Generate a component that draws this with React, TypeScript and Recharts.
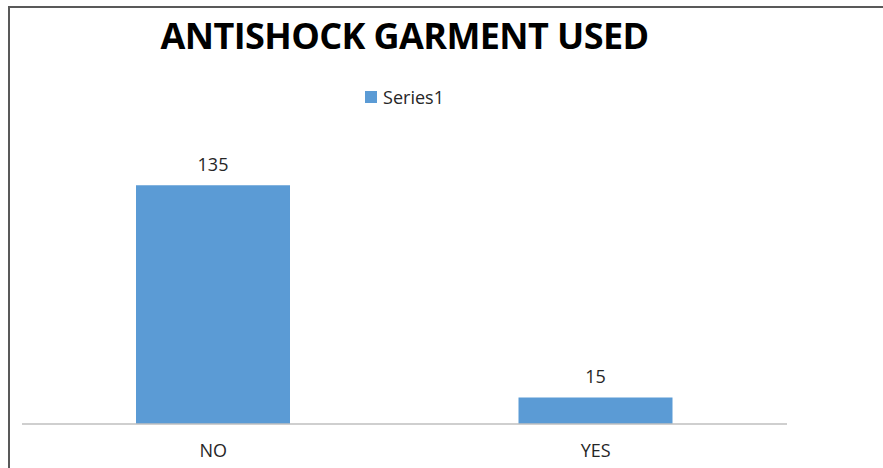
import React from 'react';
import { BarChart, Bar, XAxis, YAxis, LabelList } from 'recharts';

const categories = ['NO', 'YES'];
const series1 = [135, 15];
const seriesName = 'Series1';
const chartTitle = 'ANTISHOCK GARMENT USED';

const data = categories.map((c, i) => ({ name: c, value: series1[i] }));

const BAR_COLOR = '#5B9BD5';
const FONT = '"Open Sans", "Noto Sans", sans-serif';

export default function App() {
  return (
    <div style={{ position: 'absolute', left: 0, top: 0, width: '883px', height: '468px', background: '#fff', overflow: 'hidden' }}>
      {/* frame: only left and top edges visible in the crop */}
      <div style={{ position: 'absolute', left: '8px', top: '6px', width: '2px', height: '462px', background: '#595959' }} />
      <div style={{ position: 'absolute', left: '8px', top: '6px', width: '875px', height: '2px', background: '#595959' }} />

      <div
        style={{
          position: 'absolute',
          left: '22px',
          width: '765px',
          top: '12px',
          textAlign: 'center',
          fontFamily: FONT,
          fontWeight: 700,
          fontSize: '36px',
          letterSpacing: '-0.6px',
          color: '#000',
          lineHeight: '48px',
        }}
      >
        {chartTitle}
      </div>

      {/* legend */}
      <div
        style={{
          position: 'absolute',
          left: '22px',
          width: '765px',
          top: '85px',
          display: 'flex',
          justifyContent: 'center',
          alignItems: 'center',
          gap: '6px',
          fontFamily: FONT,
          fontSize: '18px',
          color: '#262626',
          lineHeight: '24px',
        }}
      >
        <span style={{ width: '12px', height: '12px', backgroundColor: BAR_COLOR, display: 'inline-block' }}></span>
        <span>{seriesName}</span>
      </div>

      <BarChart
        width={883}
        height={468}
        data={data}
        margin={{ top: 141, right: 96, bottom: 0, left: 22 }}
        barSize={154}
        style={{ position: 'absolute', left: 0, top: 0 }}
      >
        <XAxis
          dataKey="name"
          axisLine={{ stroke: '#BFBFBF', strokeWidth: 1.5 }}
          tickLine={false}
          tick={{ fill: '#262626', fontSize: 18, fontFamily: FONT }}
          tickMargin={14}
          height={44}
        />
        <YAxis hide domain={[0, 160]} />
        <Bar dataKey="value" name={seriesName} fill={BAR_COLOR} isAnimationActive={false}>
          <LabelList dataKey="value" position="top" offset={14} fill="#262626" fontSize={18} fontFamily={FONT} />
        </Bar>
      </BarChart>
    </div>
  );
}
